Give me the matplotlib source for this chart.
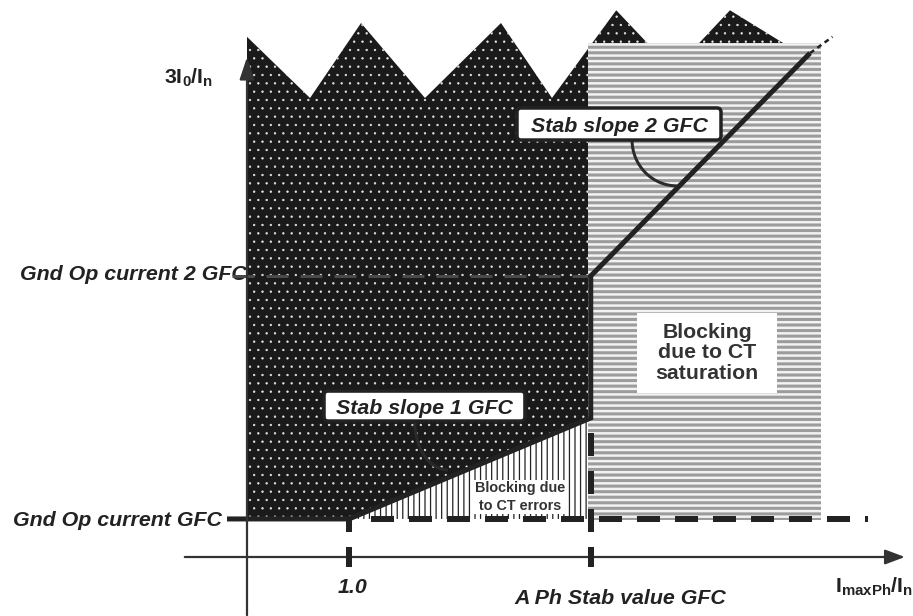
import matplotlib
matplotlib.use("Agg")
import matplotlib.pyplot as plt
from matplotlib.patches import Polygon, Rectangle, FancyBboxPatch, Arc

plt.rcParams['font.family'] = ['Liberation Sans', 'DejaVu Sans']
plt.rcParams['mathtext.fontset'] = 'custom'
plt.rcParams['mathtext.rm'] = 'Liberation Sans'
plt.rcParams['mathtext.bf'] = 'Liberation Sans:bold'
plt.rcParams['mathtext.it'] = 'Liberation Sans:italic'
plt.rcParams['lines.scale_dashes'] = False

# ---------------- data (diagram units: 1 unit = distance 0 -> "1.0") -------------
tick_x = [1.0, 3.37]
tick_labels = ['1.0', 'A Ph Stab value GFC']
pickup_1 = 0.373          # Gnd Op current GFC
pickup_2 = 2.755          # Gnd Op current 2 GFC
char_x = [-0.196, 1.0, 3.37, 3.37, 5.52]
char_y = [0.373, 0.373, 1.363, 2.755, 4.94]
ext_x = [5.52, 5.74]
ext_y = [4.94, 5.10]
zig_x = [0.0, 0.618, 1.118, 1.745, 2.49, 2.99, 3.62, 4.18, 4.735, 5.32]
zig_y = [5.10, 4.50, 5.235, 4.50, 5.235, 4.50, 5.36, 4.77, 5.36, 5.00]
sat_box_x = [3.34, 5.63]
sat_box_y = [0.363, 5.04]
y_labels = ['Gnd Op current GFC', 'Gnd Op current 2 GFC']
slope_labels = ['Stab slope 1 GFC', 'Stab slope 2 GFC']
slope_box_x = [(0.755, 2.725), (2.647, 4.647)]
slope_box_y = [(1.333, 1.627), (4.088, 4.402)]
arc_centers = [(1.97, 1.314), (4.216, 4.088)]
arc_sizes = [(0.647, 0.92), (0.882, 0.90)]

S = 102.0  # px per unit at dpi 100
W, H = 913, 616
ox, oy = 247, 557

fig = plt.figure(figsize=(W / 100, H / 100), dpi=100)
ax = fig.add_axes([0, 0, 1, 1])
ax.set_xlim(-ox / S, (W - ox) / S)
ax.set_ylim(-(H - oy) / S, oy / S)
ax.axis('off')

ink = '#222222'
PX = 0.72  # pt per px

def hatched(patch, lw):
    if hasattr(patch, 'set_hatch_linewidth'):
        patch.set_hatch_linewidth(lw)
    return patch

# dark dotted region
dark_pts = [(0.0, pickup_1)] + list(zip(zig_x, zig_y)) + [(zig_x[-1], 1.5), (char_x[2], char_y[2]), (char_x[1], char_y[1])]
with plt.rc_context({'hatch.linewidth': 0.45}):
    dark = Polygon(dark_pts, closed=True, facecolor='#1a1a1a', edgecolor='#e8e8e8', lw=0, hatch='..', zorder=1)
ax.add_patch(hatched(dark, 0.45))

# blocking due to CT errors (vertical lines)
tri = [(char_x[1], pickup_1), (char_x[2], char_y[2]), (char_x[2], pickup_1)]
with plt.rc_context({'hatch.linewidth': 0.9}):
    tri_p = Polygon(tri, closed=True, facecolor='white', edgecolor=ink, lw=0, hatch='|||', zorder=1)
ax.add_patch(hatched(tri_p, 0.9))

# saturation region (horizontal stripes)
with plt.rc_context({'hatch.linewidth': 2.2}):
    sat = Rectangle((sat_box_x[0], sat_box_y[0]), sat_box_x[1] - sat_box_x[0], sat_box_y[1] - sat_box_y[0],
                    facecolor='#f2f2f2', edgecolor='#9c9c9c', lw=0, hatch='---', zorder=2)
ax.add_patch(hatched(sat, 2.2))

# Gnd Op current 2 dashed level
ax.plot([-0.15, tick_x[1]], [pickup_2, pickup_2], color='#4a4a4a', lw=3 * PX,
        dashes=(22 * PX, 12 * PX), solid_capstyle='butt', dash_capstyle='butt', zorder=3)

# dashed pickup line and vertical dashed line
ax.plot([1.216, 6.09], [pickup_1, pickup_1], color=ink, lw=6 * PX, dashes=(23 * PX, 15 * PX),
        dash_capstyle='butt', zorder=4)
ax.plot([tick_x[1], tick_x[1]], [0.245, char_y[2]], color=ink, lw=6 * PX, dashes=(23 * PX, 15 * PX),
        dash_capstyle='butt', zorder=4)
ax.plot([tick_x[0], tick_x[0]], [0.245, pickup_1], color=ink, lw=6 * PX, solid_capstyle='butt', zorder=4)

# characteristic
ax.plot(char_x, char_y, color=ink, lw=5 * PX, solid_joinstyle='miter', solid_capstyle='butt', zorder=5)
ax.plot(ext_x, ext_y, color=ink, lw=2.5 * PX, dashes=(5 * PX, 4 * PX), zorder=5)

# axes with arrows
ax.annotate('', xy=(0, 4.90), xytext=(0, -0.57),
            arrowprops=dict(arrowstyle='-|>,head_length=0.9,head_width=0.3', color='#333333', lw=1.6,
                            shrinkA=0, shrinkB=0, mutation_scale=15), zorder=6)
ax.annotate('', xy=(6.45, 0), xytext=(-0.61, 0),
            arrowprops=dict(arrowstyle='-|>,head_length=0.8,head_width=0.3', color='#333333', lw=1.6,
                            shrinkA=0, shrinkB=0, mutation_scale=15), zorder=6)
for tx in tick_x:
    ax.plot([tx, tx], [-0.098, 0.098], color=ink, lw=6 * PX, solid_capstyle='butt', zorder=6)

# slope boxes and arcs
for lab, bx, by, c, sz in zip(slope_labels, slope_box_x, slope_box_y, arc_centers, arc_sizes):
    box = FancyBboxPatch((bx[0], by[0]), bx[1] - bx[0], by[1] - by[0],
                         boxstyle='round,pad=0,rounding_size=0.04', facecolor='white', edgecolor=ink,
                         lw=3.5 * PX, zorder=7)
    ax.add_patch(box)
    ax.text((bx[0] + bx[1]) / 2, (by[0] + by[1]) / 2, lab, ha='center', va='center_baseline',
            fontsize=15.4, fontweight='bold', fontstyle='italic', color=ink, zorder=8)
    ax.add_patch(Arc(c, sz[0], sz[1], theta1=180, theta2=270, color='#2a2a2a', lw=3 * PX, zorder=6))

# region texts
ax.text(2.676, 0.588, 'Blocking due\nto CT errors', ha='center', va='center', fontsize=10.4,
        fontweight='bold', color='#333333', linespacing=1.35, zorder=8,
        bbox=dict(boxstyle='square,pad=0.05', facecolor='white', edgecolor='none'))
ax.add_patch(Rectangle((3.824, 1.608), 5.196 - 3.824, 2.392 - 1.608, facecolor='white', edgecolor='none', zorder=7))
ax.text(4.51, 2.0, 'Blocking\ndue to CT\nsaturation', ha='center', va='center', fontsize=15.3,
        fontweight='bold', color='#333333', linespacing=1.1, zorder=8)

# axis labels
ax.text(-0.33, 4.70, r'$\mathbf{3I_0/I_n}$', ha='right', va='center', fontsize=15.4, color=ink)
ax.text(5.76, -0.29, r'$\mathbf{I_{maxPh}/I_n}$', ha='left', va='center', fontsize=15.4, color=ink)
ax.text(-0.245, pickup_1 + 0.005, y_labels[0], ha='right', va='center_baseline', fontsize=15.4,
        fontweight='bold', fontstyle='italic', color=ink, zorder=8)
ax.text(0.0, 2.794, y_labels[1], ha='right', va='center_baseline', fontsize=15.4,
        fontweight='bold', fontstyle='italic', color=ink, zorder=2)
ax.text(tick_x[0] + 0.03, -0.284, tick_labels[0], ha='center', va='center_baseline', fontsize=15.4,
        fontweight='bold', fontstyle='italic', color=ink)
ax.text(3.657, -0.39, tick_labels[1], ha='center', va='center_baseline', fontsize=15.4,
        fontweight='bold', fontstyle='italic', color=ink)

fig.savefig('out.png', dpi=100, facecolor='white')
